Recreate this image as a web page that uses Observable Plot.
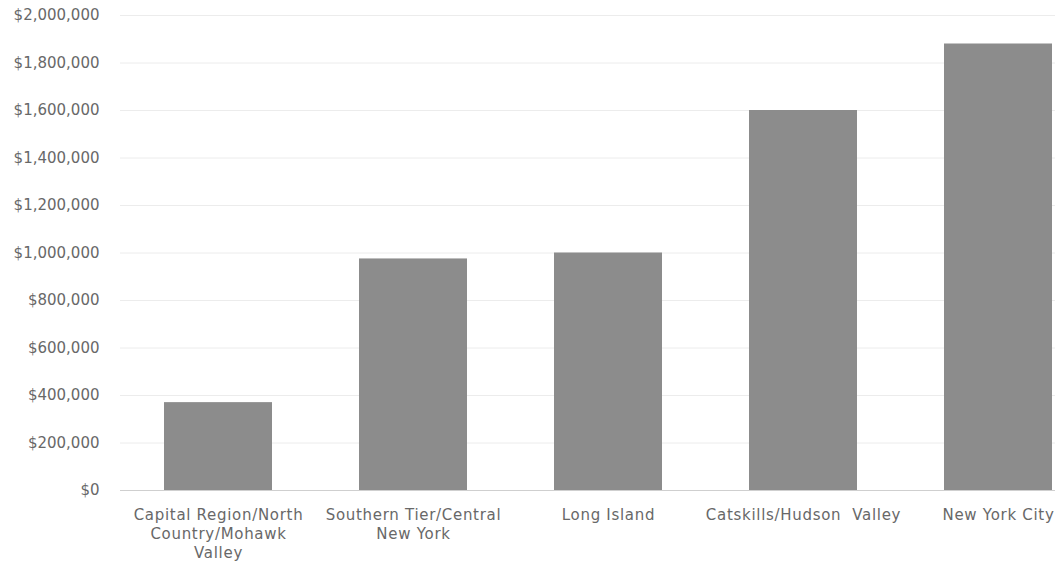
<!DOCTYPE html>
<html>
<head>
<meta charset="utf-8">
<script src="https://cdn.jsdelivr.net/npm/d3@7"></script>
<script src="https://cdn.jsdelivr.net/npm/@observablehq/plot@0.6"></script>
<style>
  html, body { margin: 0; padding: 0; background: #fff; }
  #chart svg { display: block; }
  #chart g[aria-label="x-axis tick label"] { letter-spacing: 0.7px; }
</style>
</head>
<body>
<div id="chart"></div>
<script>
// Regions of New York State and their totals (US dollars)
const regions = [
  "Capital Region/North Country/Mohawk Valley",
  "Southern Tier/Central New York",
  "Long Island",
  "Catskills/Hudson Valley",
  "New York City"
];
const amounts = [370000, 975000, 1000000, 1600000, 1880000];
// Axis labels, wrapped the way they are printed under each bar
const regionLabels = [
  "Capital Region/North\nCountry/Mohawk\nValley",
  "Southern Tier/Central\nNew York",
  "Long Island",
  "Catskills/Hudson  Valley",
  "New York City"
];
const yTicks = d3.range(0, 2000001, 200000);

const data = regions.map((region, i) => ({region, amount: amounts[i]}));
const labelOf = new Map(regions.map((r, i) => [r, regionLabels[i]]));

const textColor = "#686868";

const chart = Plot.plot({
  width: 1055,
  height: 562,
  marginTop: 15,
  marginBottom: 72,
  marginLeft: 120,
  marginRight: 0,
  style: {fontFamily: "'DejaVu Sans', sans-serif", fontSize: "15px", color: textColor, background: "#fff"},
  x: {domain: regions, range: [119, 1097], paddingInner: 0.4476, paddingOuter: 0.2238, label: null},
  y: {domain: [0, 2000000], label: null},
  marks: [
    Plot.gridY(yTicks, {stroke: "#ececec", strokeOpacity: 1, strokeWidth: 1}),
    Plot.barY(data, {x: "region", y: "amount", fill: "#8c8c8c"}),
    Plot.ruleY([0], {stroke: "#cfcfcf", strokeWidth: 1}),
    Plot.axisY({ticks: yTicks, tickFormat: d3.format("$,"), tickSize: 0, tickPadding: 21, label: null,
      fill: textColor, fontSize: 15}),
    Plot.axisX({tickFormat: d => labelOf.get(d), tickSize: 0, tickPadding: 16, lineHeight: 1.27, label: null,
      fill: textColor, fontSize: 15})
  ]
});
document.getElementById("chart").appendChild(chart);
</script>
</body>
</html>
